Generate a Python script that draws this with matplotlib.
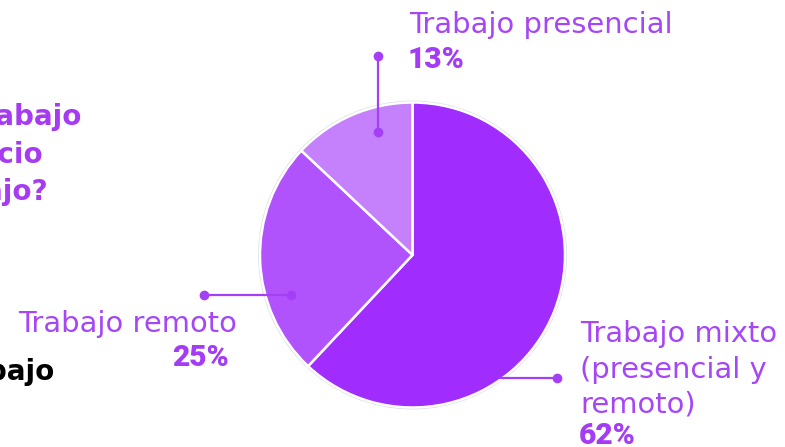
import matplotlib
matplotlib.use("Agg")
import matplotlib.pyplot as plt
from matplotlib.patches import Circle

categories = ["Trabajo mixto\n(presencial y\nremoto)", "Trabajo remoto", "Trabajo presencial"]
values = [62, 25, 13]
pct_labels = ["62%", "25%", "13%"]
colors = ["#A02CFE", "#B153FC", "#C580FC"]

W, H = 785, 447
fig = plt.figure(figsize=(W / 100, H / 100), dpi=100)
ax = fig.add_axes([0, 0, 1, 1])

cx, cy, R = 412.5, 255, 152.5
ax.add_patch(Circle((cx, cy), R + 1.2, facecolor="none", edgecolor="#dcdcdc", lw=1.0, zorder=1))
ax.pie(values, colors=colors, startangle=-90, counterclock=True, center=(cx, cy), radius=R,
       wedgeprops=dict(edgecolor="white", linewidth=1.8), frame=True)
ax.set_xlim(0, W)
ax.set_ylim(H, 0)
ax.set_aspect("equal")
ax.axis("off")

lc = "#A53FF6"
txt = "#A546F7"
pctc = "#A33CF4"
reg = dict(family="DejaVu Sans", fontsize=20.9, color=txt, va="baseline")
bold = dict(family=["Roboto", "DejaVu Sans"], fontweight="black", fontsize=21.5, color=pctc, va="baseline")

def leader(p1, p2, dots=(True, True), zorder=5):
    ax.plot([p1[0], p2[0]], [p1[1], p2[1]], color=lc, lw=1.6, zorder=zorder, solid_capstyle="round")
    for p, d in zip((p1, p2), dots):
        if d:
            ax.plot(p[0], p[1], "o", color=lc, ms=7, zorder=zorder + 1, mec="none")

# presencial
leader((378, 132), (378, 56))
ax.text(409, 33, categories[2], ha="left", **reg)
ax.text(408, 68, pct_labels[2], ha="left", **bold)

# remoto
leader((291, 295), (204, 295))
ax.text(237, 332, categories[1], ha="right", **reg)
ax.text(229, 366, pct_labels[1], ha="right", **bold)

# mixto
leader((500, 378), (557, 378), dots=(False, True))
mix_lines = categories[0].split("\n")
for line, yb in zip(mix_lines, [342, 378, 412]):
    ax.text(580, yb, line, ha="left", **reg)
ax.text(579, 444, pct_labels[0], ha="left", **bold)

# left title (cropped by the figure edge)
tb = dict(family="DejaVu Sans", fontweight="bold", fontsize=20, color="#A63BF2", va="baseline", ha="right")
ax.text(81, 125, "¿Cuál es tu modelo de trabajo", **tb)
ax.text(43, 163, "en el espacio", **tb)
ax.text(48, 200, "de trabajo?", **tb)
ax.text(54, 380, "Modalidad de trabajo", family="DejaVu Sans", fontweight="bold", fontsize=20,
        color="black", va="baseline", ha="right")

fig.savefig("out.png", dpi=100)
